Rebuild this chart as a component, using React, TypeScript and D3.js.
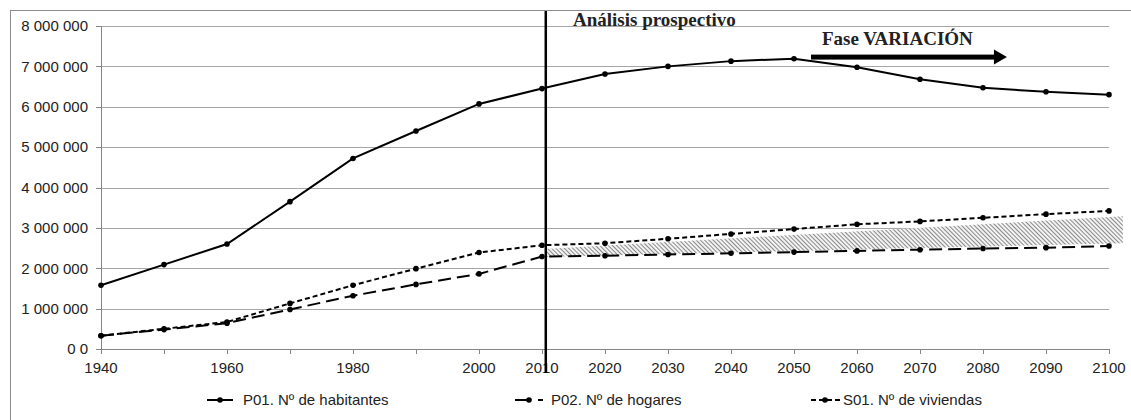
import React from "react";
import * as d3 from "d3";

const years = [1940, 1950, 1960, 1970, 1980, 1990, 2000, 2010, 2020, 2030, 2040, 2050, 2060, 2070, 2080, 2090, 2100];
const yearLabels = ["1940", "", "1960", "", "1980", "", "2000", "2010", "2020", "2030", "2040", "2050", "2060", "2070", "2080", "2090", "2100"];
const habitantes = [1580000, 2090000, 2600000, 3650000, 4720000, 5400000, 6070000, 6450000, 6810000, 7000000, 7130000, 7190000, 6980000, 6680000, 6470000, 6370000, 6300000];
const hogares = [330000, 480000, 640000, 980000, 1320000, 1600000, 1860000, 2290000, 2310000, 2340000, 2370000, 2400000, 2430000, 2460000, 2490000, 2510000, 2550000];
const viviendas = [330000, 500000, 670000, 1130000, 1580000, 1990000, 2390000, 2570000, 2620000, 2730000, 2850000, 2970000, 3090000, 3160000, 3250000, 3340000, 3420000];
const yTicks = [0, 1000000, 2000000, 3000000, 4000000, 5000000, 6000000, 7000000, 8000000];
const yTickLabels = ["0 0", "1 000 000", "2 000 000", "3 000 000", "4 000 000", "5 000 000", "6 000 000", "7 000 000", "8 000 000"];
// hatched band between the two housing projections (year, value)
const bandYears = [2010.5, 2102.2, 2102.2, 2010.5];
const bandValues = [2475000, 3290000, 2620000, 2280000];
const seriesNames = ["P01. Nº de habitantes", "P02. Nº de hogares", "S01. Nº de viviendas"];
const dividerYear = 2010.6;
const arrowYears = [2052.7, 2083.8];
const arrowValue = 7230000;

const W = 1131;
const H = 420;
const FONT = "'Liberation Sans', Arial, sans-serif";
const SERIF = "'Liberation Serif', 'Times New Roman', serif";

export default function App() {
  const x = d3.scaleLinear().domain([1940, 2100]).range([101, 1109]);
  const y = d3.scaleLinear().domain([0, 8000000]).range([349, 26]);

  const series = [
    { values: habitantes, dash: "none" },
    { values: hogares, dash: "13,6" },
    { values: viviendas, dash: "5,3" },
  ];
  const line = d3
    .line<number>()
    .x((_, i) => x(years[i]))
    .y((d) => y(d));

  const bandPts = bandYears.map((yr, i) => [x(yr), y(bandValues[i])] as [number, number]);
  const bandPath = d3.line()(bandPts.concat([bandPts[0]])) + "Z";

  const legendItems = [
    { s0: 207, s1: 233, mx: 220, tx: 243, dash: "none" },
    { s0: 515, s1: 543, mx: 529, tx: 551, dash: "15,8" },
    { s0: 811, s1: 840, mx: 825, tx: 843, dash: "5,3" },
  ];
  const legY = 400;

  const ax0 = x(arrowYears[0]);
  const ax1 = x(arrowYears[1]);
  const ay = y(arrowValue);

  return (
    <svg width={W} height={H} style={{ position: "absolute", left: 0, top: 0, background: "#fff" }} fontFamily={FONT}>
      <defs>
        <pattern id="hatch" patternUnits="userSpaceOnUse" width="8" height="3" patternTransform="rotate(45)">
          <rect width="8" height="3" fill="#ffffff" />
          <line x1="0" y1="1.5" x2="8" y2="1.5" stroke="#8a8a8a" strokeWidth="1.2" />
        </pattern>
      </defs>
      <rect x={0} y={0} width={W} height={H} fill="#fff" />
      <rect x={10.5} y={10.5} width={W + 20} height={H + 20} fill="none" stroke="#8c8c8c" strokeWidth={1} />

      {/* gridlines */}
      {yTicks.map((t, i) => (
        <g key={"g" + i}>
          {i > 0 && (
            <line x1={x(1940)} x2={x(2100)} y1={Math.round(y(t)) + 0.5} y2={Math.round(y(t)) + 0.5} stroke="#a6a6a6" strokeWidth={1} />
          )}
          <line x1={x(1940) - 5} x2={x(1940)} y1={Math.round(y(t)) + 0.5} y2={Math.round(y(t)) + 0.5} stroke="#868686" strokeWidth={1} />
          <text x={88} y={y(t)} dy="0.35em" textAnchor="end" fontSize={15} fill="#222">
            {yTickLabels[i]}
          </text>
        </g>
      ))}
      {/* axes */}
      <line x1={Math.round(x(1940)) + 0.5} x2={Math.round(x(1940)) + 0.5} y1={y(8000000)} y2={y(0)} stroke="#868686" strokeWidth={1} />
      <line x1={x(1940)} x2={x(2100)} y1={Math.round(y(0)) + 0.5} y2={Math.round(y(0)) + 0.5} stroke="#868686" strokeWidth={1} />
      {years.map((yr, i) => (
        <g key={"x" + i}>
          <line x1={Math.round(x(yr)) + 0.5} x2={Math.round(x(yr)) + 0.5} y1={y(0)} y2={y(0) + 5} stroke="#868686" strokeWidth={1} />
          <text x={x(yr)} y={373} textAnchor="middle" fontSize={15} fill="#222">
            {yearLabels[i]}
          </text>
        </g>
      ))}

      {/* hatched band */}
      <path d={bandPath} fill="url(#hatch)" stroke="none" />

      {/* series */}
      {series.map((s, k) => (
        <g key={"s" + k}>
          <path d={line(s.values) || ""} fill="none" stroke="#000" strokeWidth={2} strokeDasharray={s.dash} />
          {s.values.map((v, i) => (
            <circle key={i} cx={x(years[i])} cy={y(v)} r={2.8} fill="#000" />
          ))}
        </g>
      ))}

      {/* divider */}
      <line x1={x(dividerYear)} x2={x(dividerYear)} y1={11} y2={373} stroke="#000" strokeWidth={2.5} />

      {/* annotations */}
      <text x={573} y={26} fontFamily={SERIF} fontWeight="bold" fontSize={19} fill="#222">
        Análisis prospectivo
      </text>
      <text x={822} y={45} fontFamily={SERIF} fontWeight="bold" fontSize={19} fill="#222">
        Fase VARIACIÓN
      </text>
      <rect x={ax0} y={ay - 2.5} width={ax1 - 12 - ax0} height={5} fill="#000" />
      <path d={`M${ax1 - 13},${ay - 7.5} L${ax1},${ay} L${ax1 - 13},${ay + 7.5} Z`} fill="#000" />

      {/* legend */}
      {legendItems.map((it, k) => (
        <g key={"l" + k}>
          <line x1={it.s0} x2={it.s1} y1={legY} y2={legY} stroke="#000" strokeWidth={2} strokeDasharray={it.dash} />
          <circle cx={it.mx} cy={legY} r={2.8} fill="#000" />
          <text x={it.tx} y={legY} dy="0.35em" fontSize={15} fill="#222">
            {seriesNames[k]}
          </text>
        </g>
      ))}
    </svg>
  );
}
